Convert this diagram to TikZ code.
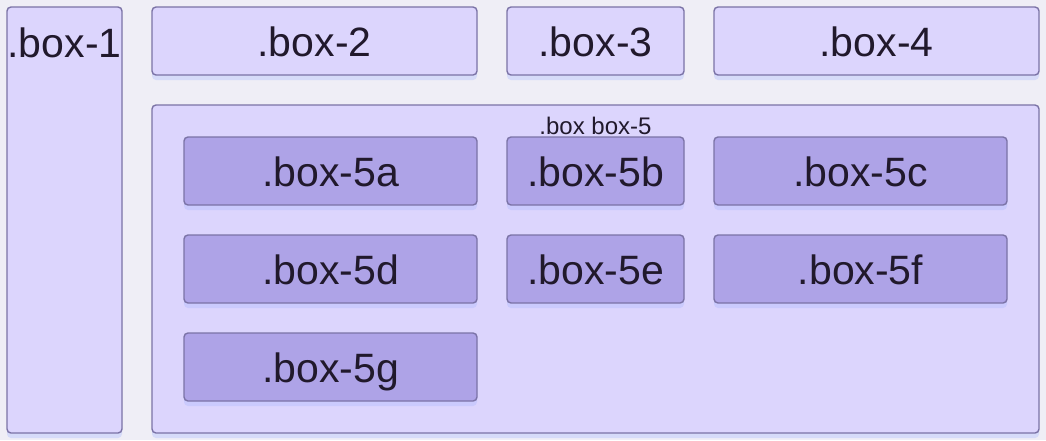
\documentclass[tikz,border=0pt]{standalone}
\usepackage{fontspec}
\setmainfont{Liberation Sans}
\usetikzlibrary{positioning,shadows}
\definecolor{bgcol}{HTML}{EFEEF6}
\definecolor{lightbox}{HTML}{DCD5FD}
\definecolor{darkbox}{HTML}{AEA3E7}
\definecolor{boxline}{HTML}{7B73A6}
\definecolor{boxtext}{HTML}{21192C}
\definecolor{glow}{HTML}{A9B8FF}

\begin{document}
\begin{tikzpicture}[x=1pt,y=-1pt,node distance=30pt]

  \tikzset{
    box/.style={draw=boxline,line width=1.4pt,rounded corners=4pt,fill=lightbox,
      inner sep=0pt,outer sep=0pt,text=boxtext,font=\fontsize{41}{41}\selectfont,
      text height=30pt,text depth=0pt,minimum height=68pt,
      drop shadow={fill=glow,opacity=.35,shadow xshift=0pt,shadow yshift=-5pt}},
    inbox/.style={box,fill=darkbox},
  }

  \fill[bgcol] (0,0) rectangle (1046,440);
  \useasboundingbox (0,0) rectangle (1046,440);

  % TOP ROW

  \node[box,minimum width=115pt,minimum height=426pt,anchor=north west,
    label={[anchor=base,yshift=-50pt,inner sep=0pt,text=boxtext,
      font=\fontsize{41}{41}\selectfont]north:.box-1}] (box1) at (7,7) {};
  \node[box,minimum width=325pt] (box2) [right=of box1.north east,anchor=north west] {.box-2};
  \node[box,minimum width=177pt] (box3) [right=of box2] {.box-3};
  \node[box,minimum width=325pt] (box4) [right=of box3] {.box-4};

  % BOX 5

  \node[box,minimum width=887pt,minimum height=328pt] (box5)
    [below=of box2.south west,anchor=north west] {};
  \node[inner sep=0pt,text=boxtext,font=\fontsize{24}{24}\selectfont] (box5text)
    [below=12pt of box5.north] {.box box-5};

  \node[inbox,minimum width=293pt] (boxa) [below right=32pt and 32pt of box5.north west] {.box-5a};
  \node[inbox,minimum width=177pt] (boxb) [right=of boxa] {.box-5b};
  \node[inbox,minimum width=293pt] (boxc) [right=of boxb] {.box-5c};

  \node[inbox,minimum width=293pt] (boxd) [below=of boxa] {.box-5d};
  \node[inbox,minimum width=177pt] (boxe) [below=of boxb] {.box-5e};
  \node[inbox,minimum width=293pt] (boxf) [below=of boxc] {.box-5f};

  \node[inbox,minimum width=293pt] (boxg) [below=of boxd] {.box-5g};

\end{tikzpicture}
\end{document}
